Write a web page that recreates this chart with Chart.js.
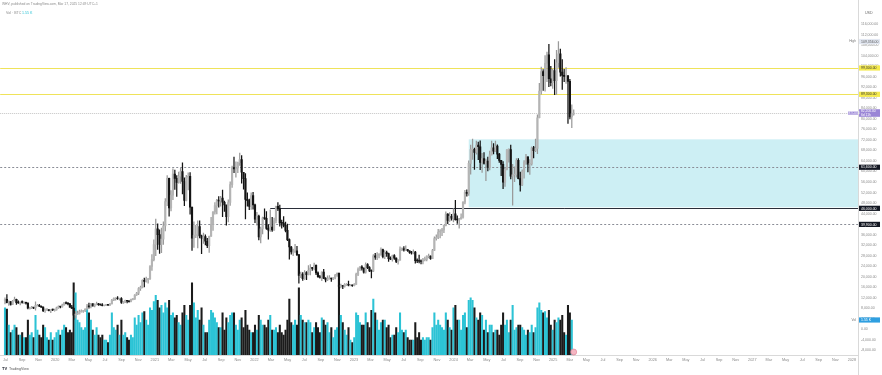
<!DOCTYPE html>
<html>
<head>
<meta charset="utf-8">
<title>BTC weekly - volume</title>
<script src="https://cdn.jsdelivr.net/npm/chart.js@4.4.1/dist/chart.umd.min.js"></script>
<style>
  html, body { margin: 0; padding: 0; background: #fff; }
  #wrap { width: 882px; height: 375px; }
</style>
</head>
<body>
<div id="wrap"><canvas id="btcChart" width="882" height="375"></canvas></div>
<script>
// =========================================
// BTC weekly candles + volume (prices in thousands of USD, volume in K BTC)
// first candle = week of Mon Jul 1 2019
// =========================================

const FIRST_OPEN = 10.8;

const CLOSES = [
  11.4, 10.2, 10.6, 9.5, 10.8, 11.4, 10.2, 10.1, 10.4, 10.3, 10.3, 10.0, 8.1, 8.1, 8.3, 8.2, 9.2, 9.2, 8.8, 8.5, 7.1, 7.4, 7.5, 7.1, 7.5, 7.4, 7.4,
  8.2, 8.7, 8.6, 9.3, 10.2, 9.9, 9.7, 8.5, 8.0, 5.4, 5.8, 5.9, 6.8, 6.9, 7.1, 7.7, 8.9, 8.7, 9.7, 8.9, 9.45, 9.7, 9.4, 9.3, 9.0, 9.1, 9.25, 9.2, 9.7, 11.1, 11.7, 11.9, 11.65, 11.7, 10.3, 10.3, 11.1, 10.75, 10.6, 11.4, 11.5, 13.1, 13.8, 15.5, 16.0, 18.7, 18.2, 19.2, 19.2, 23.9, 26.5, 32.2,
  38.2, 36.0, 32.3, 34.3, 39.3, 48.6, 57.4, 46.2, 51.0, 59.0, 57.4, 55.8, 58.2, 60.0, 56.2, 49.0, 57.8, 58.2, 46.4, 34.7, 35.7, 35.8, 39.1, 35.5, 34.7, 35.3, 33.5, 31.8, 35.4, 39.9, 44.6, 47.0, 48.9, 48.8, 49.9, 48.3, 47.3, 42.8, 48.2, 55.0, 61.5, 61.0, 61.3, 63.3, 64.5, 59.7, 57.3, 49.4, 48.9, 46.7, 50.8, 47.3,
  41.9, 43.1, 35.1, 38.2, 42.4, 42.2, 38.4, 37.7, 38.9, 37.8, 41.3, 46.8, 45.8, 40.5, 40.4, 39.5, 37.6, 34.1, 31.3, 29.4, 29.4, 29.9, 28.4, 20.5, 21.0, 19.3, 21.6, 20.8, 22.5, 23.3, 23.2, 24.4, 21.5, 20.0, 19.8, 21.8, 19.4, 18.8, 19.3, 19.4, 19.2, 19.6, 20.6, 21.3, 16.3, 16.7, 16.4, 17.1, 17.1, 16.8, 16.8, 16.6,
  17.1, 20.9, 22.8, 23.8, 23.3, 21.8, 24.6, 23.5, 22.2, 22.1, 28.0, 27.5, 28.2, 28.3, 30.3, 27.6, 29.2, 28.8, 26.9, 26.7, 28.1, 27.1, 25.8, 26.3, 30.5, 30.6, 30.2, 30.3, 29.9, 29.3, 29.1, 29.4, 26.1, 26.0, 25.9, 25.8, 26.5, 26.6, 27.9, 27.9, 26.9, 30.0, 34.5, 35.0, 37.0, 37.4, 37.8, 39.5, 43.8, 41.4, 43.0, 42.3,
  43.9, 41.7, 41.6, 42.0, 42.6, 48.3, 52.1, 51.7, 63.1, 68.3, 68.4, 67.2, 70.0, 69.4, 63.4, 64.9, 63.1, 63.9, 61.5, 66.3, 69.0, 67.7, 69.6, 66.6, 64.2, 62.7, 55.9, 60.8, 68.2, 68.3, 58.2, 58.7, 58.9, 64.2, 57.3, 54.9, 60.0, 63.6, 65.6, 62.8, 62.9, 69.0, 67.9, 68.8, 80.4, 90.5, 97.9, 96.4, 101.1, 104.3, 95.2, 93.7, 98.3,
  94.5, 101.3, 104.7, 97.7, 96.5, 96.1, 96.3, 94.2, 80.7, 81.9, 82.2
];

const HIGHS = [
  12.0, 13.2, 10.9, 10.6, 11.1, 12.3, 11.5, 10.9, 10.4, 10.9, 10.5, 10.4, 10.1, 8.5, 8.8, 8.4, 10.5, 9.5, 9.5, 9.0, 8.6, 7.8, 7.9, 7.6, 7.5, 7.7, 7.7,
  8.5, 9.0, 8.8, 9.6, 10.2, 10.5, 10.2, 9.9, 9.2, 8.2, 6.9, 7.0, 7.4, 7.5, 7.3, 7.8, 9.5, 10.0, 9.9, 9.8, 9.7, 10.4, 9.9, 9.6, 9.8, 9.3, 9.5, 9.4, 9.8, 11.4, 12.0, 12.0, 12.5, 11.8, 12.1, 10.6, 11.2, 11.1, 10.9, 11.5, 11.7, 13.2, 14.1, 15.9, 16.5, 18.8, 19.5, 19.9, 19.4, 24.3, 28.4, 34.0,
  41.9, 40.1, 37.8, 38.5, 40.9, 49.7, 58.4, 57.5, 52.7, 61.0, 60.5, 58.4, 59.8, 61.2, 63.3, 57.6, 58.5, 59.5, 59.6, 46.6, 40.9, 39.5, 41.3, 41.3, 35.8, 36.6, 35.9, 34.6, 35.5, 42.6, 44.8, 48.2, 49.4, 50.5, 50.6, 52.9, 48.8, 47.0, 49.2, 56.1, 62.0, 65.5, 63.7, 63.6, 67.0, 66.0, 59.4, 59.2, 51.9, 49.5, 51.9, 52.1,
  47.6, 44.5, 43.4, 38.9, 42.7, 45.8, 44.8, 39.8, 45.4, 42.6, 42.3, 46.9, 48.2, 47.2, 41.5, 42.9, 40.8, 40.0, 34.4, 31.6, 30.5, 32.3, 31.6, 28.4, 21.8, 21.6, 22.4, 22.0, 24.3, 24.6, 23.6, 25.2, 24.5, 21.9, 20.6, 21.9, 22.8, 19.7, 20.4, 20.5, 19.5, 19.7, 20.9, 21.5, 21.5, 17.2, 16.8, 17.4, 17.4, 18.4, 17.0, 16.9,
  17.4, 21.4, 23.4, 23.9, 24.3, 23.4, 25.3, 25.0, 23.9, 22.6, 28.4, 28.9, 29.2, 28.8, 31.0, 30.5, 30.0, 29.8, 29.0, 27.6, 28.2, 28.4, 27.2, 26.5, 31.4, 31.0, 31.5, 31.8, 30.4, 29.9, 29.7, 30.2, 29.7, 26.8, 28.2, 26.4, 27.0, 27.5, 28.0, 28.6, 28.0, 30.4, 35.2, 35.9, 38.0, 37.9, 38.4, 39.6, 44.7, 44.0, 44.4, 43.7,
  45.9, 49.0, 43.2, 42.2, 43.9, 48.6, 52.8, 53.0, 64.0, 70.0, 72.3, 68.9, 71.5, 71.2, 71.6, 66.9, 67.2, 64.7, 65.5, 67.7, 71.5, 70.6, 71.5, 70.1, 66.9, 64.2, 63.8, 61.3, 68.3, 68.6, 70.0, 62.7, 61.8, 64.9, 64.9, 59.8, 60.6, 64.1, 66.5, 65.6, 64.5, 69.4, 69.5, 72.3, 81.5, 93.5, 99.6, 98.7, 104.0, 105.3, 108.3, 99.9, 98.9,
  102.5, 106.0, 109.356, 106.5, 102.5, 98.8, 99.5, 96.5, 95.0, 85.3, 83.4
];

const LOWS = [
  9.7, 10.1, 9.1, 9.2, 9.4, 10.8, 9.5, 9.9, 9.3, 10.0, 9.9, 9.6, 7.8, 7.8, 7.9, 7.9, 7.3, 8.9, 8.7, 8.4, 6.8, 6.5, 7.2, 7.0, 6.4, 7.1, 6.9,
  7.3, 8.0, 8.2, 8.5, 9.2, 9.7, 9.3, 8.4, 8.0, 3.8, 4.4, 5.7, 5.9, 6.6, 6.5, 6.8, 7.6, 8.1, 8.2, 8.8, 8.6, 9.3, 9.1, 9.2, 8.9, 8.9, 9.0, 9.1, 9.1, 9.7, 10.9, 11.1, 11.4, 11.1, 9.9, 9.9, 10.2, 10.1, 10.4, 10.5, 11.2, 11.4, 12.9, 13.2, 14.8, 15.8, 16.2, 18.0, 17.6, 19.0, 22.4, 26.0,
  28.0, 30.4, 28.9, 29.2, 32.3, 37.4, 47.0, 43.0, 45.0, 49.3, 53.2, 50.5, 55.6, 55.5, 51.5, 47.0, 48.8, 53.0, 43.8, 30.0, 31.2, 34.9, 31.0, 34.8, 28.8, 32.7, 32.1, 31.1, 29.3, 35.3, 37.6, 43.8, 43.9, 46.4, 46.8, 42.8, 44.8, 39.6, 40.8, 47.1, 53.9, 59.5, 57.8, 59.5, 62.3, 55.6, 53.3, 42.0, 46.8, 45.5, 45.6, 45.7,
  40.6, 39.6, 34.0, 32.9, 36.3, 41.8, 38.0, 34.3, 37.2, 37.2, 37.6, 40.5, 45.1, 39.2, 38.5, 38.9, 37.0, 33.7, 26.7, 28.6, 28.0, 29.3, 28.0, 17.6, 19.7, 18.6, 19.0, 18.9, 20.7, 20.7, 22.4, 22.6, 20.8, 19.8, 19.5, 18.5, 19.3, 18.1, 18.5, 19.1, 18.2, 18.9, 19.2, 20.1, 15.6, 15.8, 15.5, 16.1, 16.7, 16.5, 16.6, 16.3,
  16.5, 17.1, 20.4, 22.3, 22.5, 21.4, 21.4, 23.1, 21.9, 19.6, 21.9, 26.6, 26.5, 27.2, 28.2, 27.2, 26.9, 27.7, 25.8, 26.5, 25.9, 26.6, 25.4, 24.8, 26.3, 29.9, 29.7, 30.0, 29.6, 28.9, 28.6, 28.7, 25.2, 25.4, 25.3, 24.9, 24.9, 26.0, 26.0, 27.2, 26.6, 26.9, 29.9, 33.9, 34.5, 34.8, 35.6, 36.8, 39.3, 40.2, 41.0, 41.5,
  40.8, 41.5, 40.3, 38.5, 41.9, 42.3, 47.7, 50.6, 50.9, 59.0, 64.6, 60.8, 66.6, 64.5, 60.7, 59.6, 62.8, 56.5, 60.2, 60.6, 66.3, 66.7, 67.6, 64.9, 63.4, 58.4, 53.5, 54.3, 60.6, 63.5, 57.2, 47.2, 56.1, 57.8, 57.2, 52.5, 54.6, 57.5, 62.7, 59.8, 58.9, 62.4, 65.1, 67.5, 66.8, 80.3, 89.4, 90.8, 90.5, 94.1, 92.2, 92.5, 91.5,
  89.2, 89.3, 99.5, 96.2, 91.2, 94.1, 93.4, 78.2, 80.0, 76.6, 81.4
];

const VOLUMES = [
  19, 18.5, 12, 9, 10, 12, 11, 8, 8, 9, 7, 7, 14, 8, 9, 7, 16, 10, 8, 7, 12, 11, 7, 6, 9, 6, 7,
  9, 10, 8, 10, 12, 11, 9, 10, 9, 29, 25, 14, 13, 11, 10, 11, 19, 17, 14, 10, 8, 11, 8, 7, 8, 6, 6, 5, 8, 17, 11, 10, 12, 8, 14, 8, 9, 7, 6, 8, 7, 15, 12, 16, 13, 17, 17.5, 14, 12, 19, 18, 21.5,
  24, 22, 19, 20, 17, 21, 19, 22, 16, 17, 15, 16, 13, 12, 17, 20, 16, 14, 20, 29, 21, 15, 18, 14, 19, 12, 9, 9, 14, 18, 17, 15, 13, 11, 11, 17, 10, 15, 13, 16, 17, 17, 12, 10, 14, 15, 11, 18, 12, 10, 9, 9,
  12, 10, 16, 14, 12, 12, 11, 14, 16, 10, 10, 11, 9, 12, 9, 8, 10, 14, 22.5, 13, 12, 14, 12, 27, 16, 14, 13, 13, 14, 13, 9, 11, 13, 11, 9, 15, 14, 12, 13, 9, 11, 7, 10, 11, 28, 16, 13, 10, 8, 11, 6, 5,
  7, 17, 16, 13, 12, 12, 17, 13, 11, 18, 22.5, 17, 14, 10, 13, 14, 14, 11, 12, 7, 8, 8, 11, 9, 17, 10, 9, 10, 7, 6, 6, 6, 13, 7, 9, 6, 7, 6, 7, 7, 6, 11, 17, 12, 14, 12, 11, 10, 17, 14, 11, 10,
  19, 20, 14, 14, 10, 16, 17, 11, 22, 23, 22, 19, 15, 14, 17, 16, 10, 14, 9, 12, 12, 9, 10, 10, 8, 12, 17, 12, 14, 9, 14, 20, 10, 11, 12, 12, 11, 10, 8, 10, 9, 12, 9, 11, 19, 21, 18, 17, 17.5, 15, 18, 12, 10,
  14, 13, 15, 14, 16, 9, 8, 20, 17, 14, 1.55
];

// price axis labels (thousands) and time axis labels (every 2 months from Jul 2019)
const PRICE_TICKS = [-8, -4, 0, 4, 8, 12, 16, 20, 24, 28, 32, 36, 40, 44, 48, 52, 56, 60, 64, 68, 72, 76, 80, 84, 88, 92, 96, 100, 104, 108, 112, 116];
const TIME_LABELS = [
  'Jul', 'Sep', 'Nov',
  '2020', 'Mar', 'May', 'Jul', 'Sep', 'Nov',
  '2021', 'Mar', 'May', 'Jul', 'Sep', 'Nov',
  '2022', 'Mar', 'May', 'Jul', 'Sep', 'Nov',
  '2023', 'Mar', 'May', 'Jul', 'Sep', 'Nov',
  '2024', 'Mar', 'May', 'Jul', 'Sep', 'Nov',
  '2025', 'Mar', 'May', 'Jul', 'Sep', 'Nov',
  '2026', 'Mar', 'May', 'Jul', 'Sep', 'Nov',
  '2027', 'Mar', 'May', 'Jul', 'Sep', 'Nov',
  '2028'
];
const FIRST_TIME_TICK = 6; // Jul 2019, in months since Jan 2019

// drawn levels
const YELLOW_LEVELS = [99.3, 89.3];
const DASHED_LEVELS = [61.6, 39.9];
const SUPPORT_LEVEL = 46.0;
const SUPPORT_FROM_WEEK = 139;
const ZONE_FROM_WEEK = 243;
const ZONE_TOP = 72.2;
const ZONE_BOTTOM = 46.4;
const VOL_TAG_LEVEL = 3.6; // where the volume tag sits on the price scale

const FONT = '"Liberation Sans", Arial, sans-serif';
const UP_BODY = '#b4b4b4';
const UP_WICK = '#9a9a9a';
const DOWN = '#141414';
const VOL_UP = '#2cc3d5';
const VOL_DOWN = '#1b1b1b';

function weekPos(i) {
  // x position of week i, in months since Jan 1 2019
  const start = Date.UTC(2019, 6, 1) + i * 7 * 86400000;
  return (start - Date.UTC(2019, 0, 1)) / 86400000 / (365.25 / 12);
}

function fmtPrice(v) {
  return (v * 1000).toLocaleString('en-US', { minimumFractionDigits: 2, maximumFractionDigits: 2 });
}

const opens = CLOSES.map((c, i) => i === 0 ? FIRST_OPEN : CLOSES[i - 1]);
const isUp = CLOSES.map((c, i) => c >= opens[i]);
const xs = CLOSES.map((c, i) => weekPos(i));

function drawTag(ctx, area, y, text, bg, fg) {
  ctx.fillStyle = bg;
  ctx.fillRect(area.right + 1, y - 2.6, 21, 5.2);
  ctx.fillStyle = fg;
  ctx.font = '3.5px ' + FONT;
  ctx.textAlign = 'left';
  ctx.textBaseline = 'middle';
  ctx.fillText(text, area.right + 3, y + 0.2);
}

const overlays = {
  id: 'overlays',
  beforeDatasetsDraw(chart) {
    const { ctx, chartArea: a, scales } = chart;
    const x = scales.x, y = scales.y;
    ctx.save();

    // demand zone
    const zx = x.getPixelForValue(weekPos(ZONE_FROM_WEEK));
    const zt = y.getPixelForValue(ZONE_TOP), zb = y.getPixelForValue(ZONE_BOTTOM);
    ctx.fillStyle = '#cdeff4';
    ctx.fillRect(zx, zt, a.right - zx, zb - zt);

    ctx.lineWidth = 1;
    YELLOW_LEVELS.forEach(v => {
      const py = Math.round(y.getPixelForValue(v)) + 0.5;
      ctx.strokeStyle = '#efe35a';
      ctx.beginPath(); ctx.moveTo(a.left, py); ctx.lineTo(a.right, py); ctx.stroke();
    });

    ctx.setLineDash([2, 2]);
    DASHED_LEVELS.forEach(v => {
      const py = Math.round(y.getPixelForValue(v)) + 0.5;
      ctx.strokeStyle = '#8a8d96';
      ctx.beginPath(); ctx.moveTo(a.left, py); ctx.lineTo(a.right, py); ctx.stroke();
    });

    // last price line
    const lp = Math.round(y.getPixelForValue(CLOSES[CLOSES.length - 1])) + 0.5;
    ctx.setLineDash([1, 1]);
    ctx.strokeStyle = '#c4c4c4';
    ctx.beginPath(); ctx.moveTo(a.left, lp); ctx.lineTo(a.right, lp); ctx.stroke();
    ctx.setLineDash([]);

    const sy = Math.round(y.getPixelForValue(SUPPORT_LEVEL)) + 0.5;
    ctx.strokeStyle = '#2a2e39';
    ctx.beginPath(); ctx.moveTo(x.getPixelForValue(weekPos(SUPPORT_FROM_WEEK)), sy); ctx.lineTo(a.right, sy); ctx.stroke();
    ctx.restore();
  },
  afterDraw(chart) {
    const { ctx, chartArea: a, scales } = chart;
    const y = scales.y;
    ctx.save();

    // vertical axis border down to the bottom
    ctx.strokeStyle = '#d9d9d9';
    ctx.lineWidth = 1;
    ctx.beginPath(); ctx.moveTo(a.right + 0.5, 0); ctx.lineTo(a.right + 0.5, 375); ctx.stroke();

    // header
    ctx.textBaseline = 'middle';
    ctx.textAlign = 'left';
    ctx.font = '3.3px ' + FONT;
    ctx.fillStyle = '#8a8a8a';
    ctx.fillText('WHV, published on TradingView.com, Mar 17, 2025 12:49 UTC+1', 2, 4);
    ctx.font = '3.6px ' + FONT;
    ctx.fillText('Vol · BTC', 6, 12.5);
    ctx.fillStyle = VOL_UP;
    ctx.fillText('1.55 K', 22, 12.5);
    ctx.fillStyle = '#666';
    ctx.fillText('USD', 865, 12.5);

    // footer logo
    ctx.font = 'bold 4px ' + FONT;
    ctx.fillStyle = '#131722';
    ctx.fillText('TV', 2, 369);
    ctx.font = '3.6px ' + FONT;
    ctx.fillStyle = '#555';
    ctx.fillText('TradingView', 9, 369);

    // axis tags
    const hi = Math.max(...HIGHS);
    const hy = y.getPixelForValue(hi);
    drawTag(ctx, a, hy, fmtPrice(hi), '#e3e8f2', '#555');
    ctx.font = '3.3px ' + FONT;
    ctx.fillStyle = '#777';
    ctx.textAlign = 'right';
    ctx.fillText('High', a.right - 2, hy);
    ctx.textAlign = 'left';

    YELLOW_LEVELS.forEach(v => drawTag(ctx, a, y.getPixelForValue(v), fmtPrice(v), '#f5ea4e', '#333'));
    DASHED_LEVELS.forEach(v => drawTag(ctx, a, y.getPixelForValue(v), fmtPrice(v), '#131722', '#fff'));
    drawTag(ctx, a, y.getPixelForValue(SUPPORT_LEVEL), fmtPrice(SUPPORT_LEVEL), '#131722', '#fff');

    // last price, two lines
    const last = CLOSES[CLOSES.length - 1];
    const ly = y.getPixelForValue(last);
    ctx.fillStyle = '#9a86d6';
    ctx.fillRect(a.right + 1, ly - 3.8, 21, 7.6);
    ctx.fillRect(a.right - 10, ly - 1.6, 10, 3.2);
    ctx.fillStyle = '#fff';
    ctx.font = '3.3px ' + FONT;
    ctx.fillText(fmtPrice(last), a.right + 3, ly - 1.6);
    ctx.fillText('6d 11h', a.right + 3, ly + 2);
    ctx.font = '2.8px ' + FONT;
    ctx.fillText('BTCUSD', a.right - 9.5, ly + 0.2);

    // volume tag
    const vy = y.getPixelForValue(VOL_TAG_LEVEL);
    drawTag(ctx, a, vy, '1.55 K', '#2f9fe0', '#fff');
    ctx.font = '3.3px ' + FONT;
    ctx.fillStyle = '#777';
    ctx.textAlign = 'right';
    ctx.fillText('Vol', a.right - 2, vy);

    // event flag under the last candle
    const fx = scales.x.getPixelForValue(xs[xs.length - 1]);
    ctx.beginPath();
    ctx.arc(fx, a.bottom - 3, 3, 0, Math.PI * 2);
    ctx.fillStyle = '#f4b6c2';
    ctx.fill();
    ctx.strokeStyle = '#e07b8e';
    ctx.lineWidth = 0.6;
    ctx.stroke();
    ctx.restore();
  }
};

new Chart(document.getElementById('btcChart'), {
  type: 'bar',
  data: {
    datasets: [
      {
        label: 'Candle body',
        data: CLOSES.map((c, i) => ({ x: xs[i], y: [opens[i], c] })),
        yAxisID: 'y',
        backgroundColor: isUp.map(u => u ? UP_BODY : DOWN),
        barThickness: 1.5,
        minBarLength: 0.8,
        order: 1
      },
      {
        label: 'Candle wick',
        data: HIGHS.map((h, i) => ({ x: xs[i], y: [LOWS[i], h] })),
        yAxisID: 'y',
        backgroundColor: isUp.map(u => u ? UP_WICK : DOWN),
        barThickness: 0.6,
        order: 2
      },
      {
        label: 'Vol',
        data: VOLUMES.map((v, i) => ({ x: xs[i], y: v })),
        yAxisID: 'yv',
        backgroundColor: isUp.map(u => u ? VOL_UP : VOL_DOWN),
        barThickness: 1.4,
        order: 3
      }
    ]
  },
  options: {
    responsive: false,
    animation: false,
    events: [],
    layout: { padding: { top: 7, left: 0, right: 0, bottom: 0 } },
    datasets: { bar: { grouped: false, borderWidth: 0 } },
    plugins: { legend: { display: false }, tooltip: { enabled: false } },
    scales: {
      x: {
        type: 'linear',
        min: 5.37,
        max: 108.74,
        offset: false,
        grid: { display: false, drawTicks: false },
        border: { color: '#d9d9d9' },
        afterBuildTicks: axis => { axis.ticks = TIME_LABELS.map((l, i) => ({ value: FIRST_TIME_TICK + 2 * i })); },
        afterFit: s => { s.height = 20; },
        ticks: {
          autoSkip: false,
          maxRotation: 0,
          padding: 3,
          color: '#8a8a8a',
          font: { size: 3.8, family: FONT },
          callback: (v, i) => TIME_LABELS[i]
        }
      },
      y: {
        position: 'right',
        min: -9.70,
        max: 122.46,
        grid: { display: false, drawTicks: false },
        border: { display: false },
        afterBuildTicks: axis => { axis.ticks = PRICE_TICKS.map(v => ({ value: v })); },
        afterFit: s => { s.width = 24; },
        ticks: {
          padding: 3,
          color: '#8a8a8a',
          font: { size: 3.5, family: FONT },
          callback: v => fmtPrice(v)
        }
      },
      yv: {
        display: false,
        min: 0,
        max: 140
      }
    }
  },
  plugins: [overlays]
});
</script>
</body>
</html>
